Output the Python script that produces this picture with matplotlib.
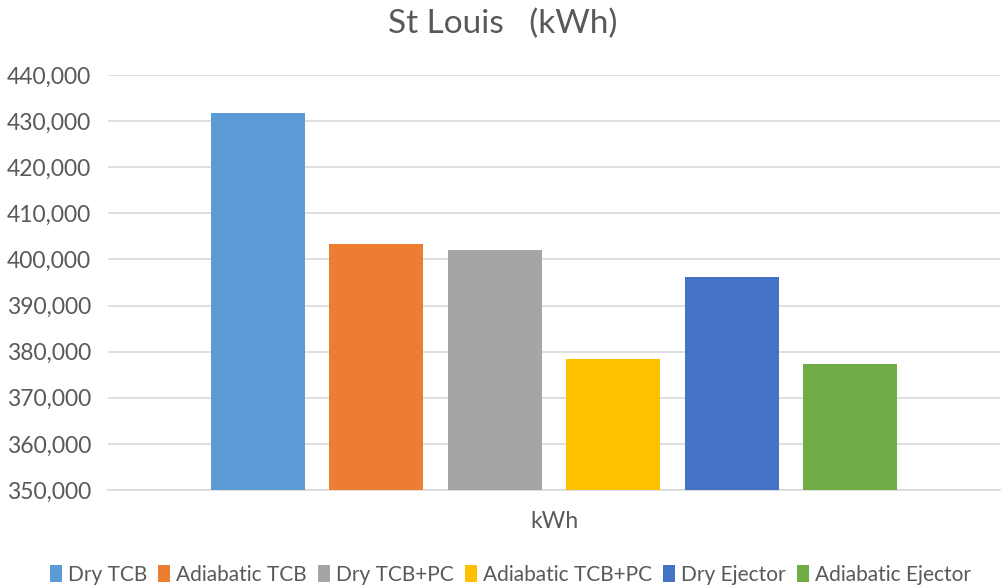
import numpy as np
import matplotlib.pyplot as plt

# Annual energy, St Louis
series = ["Dry TCB", "Adiabatic TCB", "Dry TCB+PC", "Adiabatic TCB+PC", "Dry Ejector", "Adiabatic Ejector"]
values = [431700, 403300, 402000, 378500, 396100, 377400]
colors = ["#5b9bd5", "#ed7d31", "#a5a5a5", "#ffc000", "#4472c4", "#70ad47"]
category = "kWh"
yticks = np.arange(350000, 440001, 10000)

plt.rcParams['font.family'] = ['Lato', 'DejaVu Sans']

fig = plt.figure(figsize=(10.05, 5.86), dpi=100)
ax = fig.add_axes([108 / 1005, 1 - 490 / 586, 892 / 1005, 415 / 586])

width = 0.793
offsets = np.arange(len(series)) - (len(series) - 1) / 2
for off, name, val, col in zip(offsets, series, values, colors):
    ax.bar(off, val - 350000, bottom=350000, width=width, color=col, label=name, zorder=3)

ax.set_xlim(-3.765, 3.765)
ax.set_ylim(350000, 440000)
ax.set_yticks(yticks)
ax.set_yticklabels([f"{v:,}" for v in yticks])
ax.set_xticks([0])
ax.set_xticklabels([category])
ax.tick_params(axis='both', length=0, labelsize=16.5, colors="#595959")
ax.tick_params(axis='y', pad=12)
ax.tick_params(axis='x', pad=15)
ax.grid(axis='y', color="#d9d9d9", linewidth=1.2, zorder=0)
for s in ["top", "right", "left"]:
    ax.spines[s].set_visible(False)
ax.spines["bottom"].set_color("#d9d9d9")
ax.spines["bottom"].set_linewidth(1.2)

fig.suptitle("St Louis   (kWh)", y=0.985, fontsize=24, color="#595959")

fig.legend(loc="lower center", bbox_to_anchor=(0.508, -0.03), ncol=6, frameon=False,
           fontsize=15, handlelength=0.55, handleheight=0.9, handletextpad=0.3,
           columnspacing=0.55, labelcolor="#595959")

fig.savefig("out.png", dpi=100)
